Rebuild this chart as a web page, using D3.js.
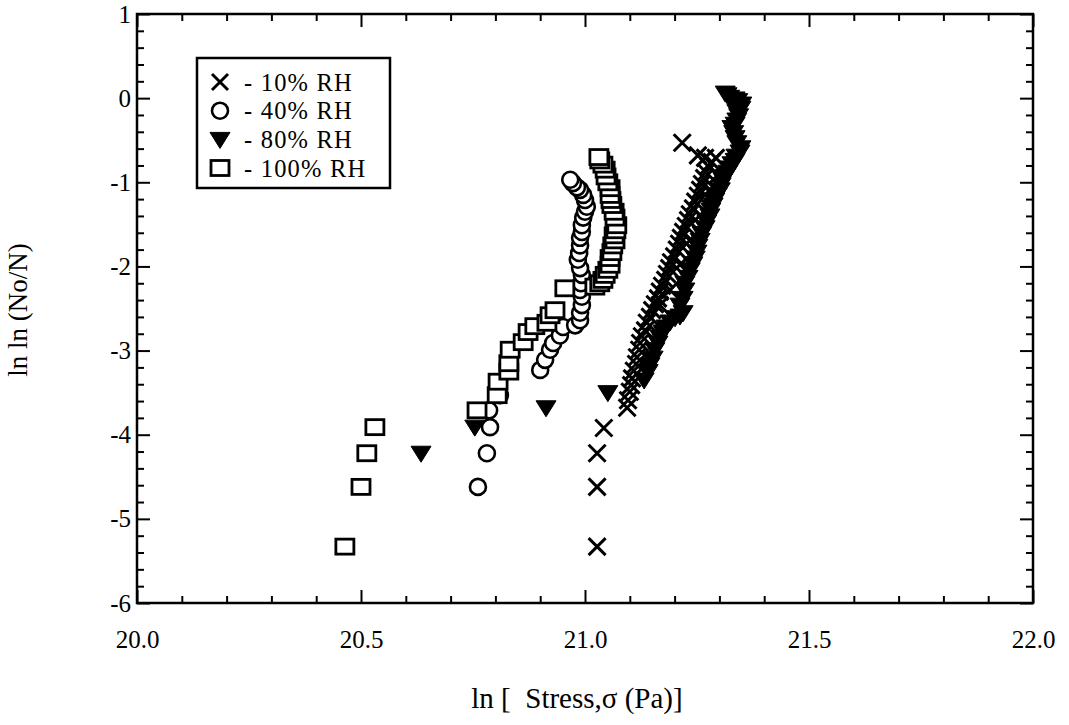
<!DOCTYPE html>
<html>
<head>
<meta charset="utf-8">
<script src="https://cdn.jsdelivr.net/npm/d3@7"></script>
<style>
  html, body { margin: 0; padding: 0; background: #fff; }
  svg { display: block; }
  text { font-family: "Liberation Serif", "Times New Roman", serif; fill: #000; white-space: pre; }
</style>
</head>
<body>
<svg id="chart" width="1069" height="725"></svg>
<script>
// ---- data ----
const seriesNames = ["- 10% RH", "- 40% RH", "- 80% RH", "- 100% RH"];
const xTickLabels = [20.0, 20.5, 21.0, 21.5, 22.0];
const yTickLabels = [-6, -5, -4, -3, -2, -1, 0, 1];

const x10 = [21.027,21.027,21.027,21.042,21.094,21.096,21.100,21.103,21.105,21.109,21.114,21.116,21.121,21.123,21.127,21.134,21.138,21.145,21.150,21.156,21.163,21.167,21.172,21.179,21.183,21.188,21.192,21.199,21.205,21.210,21.214,21.219,21.225,21.230,21.234,21.241,21.246,21.252,21.257,21.261,21.266,21.270,21.275,21.283,21.292,21.268,21.252,21.217,21.167,21.190,21.212,21.234,21.257,21.279,21.297];
const y10 = [-5.33,-4.62,-4.22,-3.92,-3.68,-3.59,-3.49,-3.41,-3.33,-3.24,-3.16,-3.08,-2.99,-2.91,-2.83,-2.76,-2.67,-2.60,-2.52,-2.45,-2.38,-2.30,-2.23,-2.16,-2.09,-2.02,-1.95,-1.88,-1.80,-1.73,-1.66,-1.59,-1.52,-1.45,-1.38,-1.31,-1.23,-1.16,-1.09,-1.02,-0.95,-0.88,-0.81,-0.76,-0.71,-0.71,-0.68,-0.53,-2.46,-2.28,-1.98,-1.69,-1.39,-1.09,-0.91];

const x40 = [20.761,20.781,20.788,20.786,20.810,20.900,20.911,20.922,20.929,20.944,20.951,20.978,20.989,20.989,20.993,20.993,20.989,20.991,20.993,20.989,20.984,20.987,20.989,20.989,20.993,20.993,20.996,21.000,21.004,21.000,20.996,20.989,20.982,20.973,20.967];
const y40 = [-4.62,-4.22,-3.91,-3.71,-3.53,-3.23,-3.11,-2.99,-2.91,-2.82,-2.72,-2.70,-2.64,-2.55,-2.46,-2.36,-2.28,-2.20,-2.10,-2.02,-1.92,-1.84,-1.75,-1.66,-1.59,-1.51,-1.42,-1.35,-1.29,-1.21,-1.15,-1.09,-1.06,-1.01,-0.97];

const x80 = [20.634,20.754,20.913,21.051,21.132,21.141,21.145,21.152,21.156,21.163,21.167,21.174,21.181,21.190,21.201,21.212,21.219,21.212,21.219,21.223,21.223,21.230,21.235,21.241,21.246,21.250,21.252,21.257,21.261,21.268,21.272,21.279,21.281,21.286,21.290,21.295,21.302,21.304,21.308,21.313,21.319,21.324,21.328,21.335,21.337,21.346,21.348,21.339,21.335,21.332,21.328,21.335,21.339,21.343,21.339,21.348,21.350,21.341,21.335,21.323,21.317,21.313];
const y80 = [-4.22,-3.91,-3.68,-3.50,-3.35,-3.25,-3.17,-3.09,-2.99,-2.91,-2.84,-2.78,-2.72,-2.66,-2.61,-2.59,-2.55,-2.46,-2.38,-2.28,-2.20,-2.13,-2.04,-1.97,-1.90,-1.83,-1.76,-1.69,-1.61,-1.54,-1.47,-1.40,-1.33,-1.27,-1.21,-1.15,-1.09,-1.03,-0.97,-0.93,-0.88,-0.83,-0.78,-0.74,-0.69,-0.64,-0.59,-0.53,-0.47,-0.41,-0.35,-0.31,-0.26,-0.21,-0.16,-0.12,-0.07,-0.03,-0.01,0.01,0.04,0.06];

const x100 = [20.464,20.500,20.513,20.531,20.759,20.804,20.806,20.830,20.830,20.833,20.862,20.873,20.888,20.915,20.922,20.933,20.955,21.022,21.033,21.040,21.045,21.051,21.056,21.056,21.060,21.062,21.067,21.065,21.069,21.071,21.067,21.065,21.060,21.058,21.056,21.056,21.051,21.047,21.045,21.040,21.033,21.031];
const y100 = [-5.33,-4.62,-4.22,-3.91,-3.71,-3.53,-3.37,-3.25,-3.15,-2.99,-2.90,-2.78,-2.71,-2.67,-2.58,-2.52,-2.26,-2.24,-2.20,-2.16,-2.10,-2.04,-1.98,-1.90,-1.83,-1.75,-1.69,-1.63,-1.57,-1.51,-1.42,-1.35,-1.27,-1.21,-1.15,-1.07,-1.00,-0.93,-0.85,-0.79,-0.74,-0.70];

// ---- layout ----
const svg = d3.select("#chart");
const L = 137, R = 1033, T = 14, B = 603;
const x = d3.scaleLinear().domain([20, 22]).range([L, R]);
const y = d3.scaleLinear().domain([-6, 1]).range([B, T]);

const xMajor = xTickLabels;
const xMinor = d3.range(0, 21).map(i => +(20 + i * 0.1).toFixed(1)).filter(v => !xMajor.includes(v));
const yMajor = yTickLabels;
const yMinor = d3.range(0, 36).map(i => +(-6 + i * 0.2).toFixed(1)).filter(v => !yMajor.includes(v));

const MAJ = 13, MIN = 7;
const FONT = "Liberation Serif, Times New Roman, serif";
function styleAxis(g) {
  g.select(".domain").remove();
  g.selectAll(".tick line").attr("stroke", "#000").attr("stroke-width", 2);
}
// bottom
svg.append("g").attr("transform", `translate(0,${B})`)
  .call(d3.axisBottom(x).tickValues(xMajor).tickSize(-MAJ).tickPadding(27).tickFormat(d3.format(".1f")))
  .call(styleAxis)
  .attr("font-size", 25).attr("font-family", FONT);
svg.append("g").attr("transform", `translate(0,${B})`)
  .call(d3.axisBottom(x).tickValues(xMinor).tickSize(-MIN).tickFormat(""))
  .call(styleAxis);
// top
svg.append("g").attr("transform", `translate(0,${T})`)
  .call(d3.axisTop(x).tickValues(xMajor).tickSize(-MAJ).tickFormat(""))
  .call(styleAxis);
svg.append("g").attr("transform", `translate(0,${T})`)
  .call(d3.axisTop(x).tickValues(xMinor).tickSize(-MIN).tickFormat(""))
  .call(styleAxis);
// left
svg.append("g").attr("transform", `translate(${L},0)`)
  .call(d3.axisLeft(y).tickValues(yMajor).tickSize(-MAJ).tickPadding(6).tickFormat(d => String(d)))
  .call(styleAxis)
  .attr("font-size", 25).attr("font-family", FONT);
svg.append("g").attr("transform", `translate(${L},0)`)
  .call(d3.axisLeft(y).tickValues(yMinor).tickSize(-MIN).tickFormat(""))
  .call(styleAxis);
// right
svg.append("g").attr("transform", `translate(${R},0)`)
  .call(d3.axisRight(y).tickValues(yMajor).tickSize(-MAJ).tickFormat(""))
  .call(styleAxis);
svg.append("g").attr("transform", `translate(${R},0)`)
  .call(d3.axisRight(y).tickValues(yMinor).tickSize(-MIN).tickFormat(""))
  .call(styleAxis);

// frame
svg.append("rect").attr("x", L).attr("y", T).attr("width", R - L).attr("height", B - T)
  .attr("fill", "none").attr("stroke", "#000").attr("stroke-width", 2.5);

// axis titles
svg.append("text").attr("x", 577).attr("y", 708).attr("text-anchor", "middle")
  .attr("font-size", 29).text("ln [  Stress,σ (Pa)]");
svg.append("text").attr("transform", `translate(27,310) rotate(-90)`)
  .attr("text-anchor", "middle").attr("font-size", 27).text("ln ln (No/N)");

// ---- markers ----
const plot = svg.append("g");
function drawCross(g, cx, cy, s) {
  g.append("path").attr("d", `M${cx - s},${cy - s}L${cx + s},${cy + s}M${cx - s},${cy + s}L${cx + s},${cy - s}`)
    .attr("stroke", "#000").attr("stroke-width", 3).attr("fill", "none");
}
function drawCircle(g, cx, cy) {
  g.append("circle").attr("cx", cx).attr("cy", cy).attr("r", 8)
    .attr("fill", "#fff").attr("stroke", "#000").attr("stroke-width", 2.6);
}
function drawTri(g, cx, cy) {
  g.append("path").attr("d", `M${cx - 10},${cy - 7}L${cx + 10},${cy - 7}L${cx},${cy + 9}Z`)
    .attr("fill", "#000").attr("stroke", "#000").attr("stroke-width", 1);
}
function drawSquare(g, cx, cy) {
  g.append("rect").attr("x", cx - 9).attr("y", cy - 7.5).attr("width", 18).attr("height", 15)
    .attr("fill", "#fff").attr("stroke", "#000").attr("stroke-width", 2.8);
}

x40.forEach((v, i) => drawCircle(plot, x(v), y(y40[i])));
x100.forEach((v, i) => drawSquare(plot, x(v), y(y100[i])));
x80.forEach((v, i) => drawTri(plot, x(v), y(y80[i])));
x10.forEach((v, i) => drawCross(plot, x(v), y(y10[i]), 8.5));

// ---- legend ----
const lg = svg.append("g");
lg.append("rect").attr("x", 197).attr("y", 58).attr("width", 193).attr("height", 130)
  .attr("fill", "#fff").attr("stroke", "#000").attr("stroke-width", 2.5);
const rowsY = [82, 110.7, 139.4, 168];
drawCross(lg, 220, rowsY[0], 8);
drawCircle(lg, 220, rowsY[1]);
drawTri(lg, 220, rowsY[2]);
drawSquare(lg, 220, rowsY[3]);
seriesNames.forEach((s, i) => {
  lg.append("text").attr("x", 244).attr("y", rowsY[i] + 8.5).attr("font-size", 24.5)
    .attr("letter-spacing", 1.2).text(s);
});
</script>
</body>
</html>
